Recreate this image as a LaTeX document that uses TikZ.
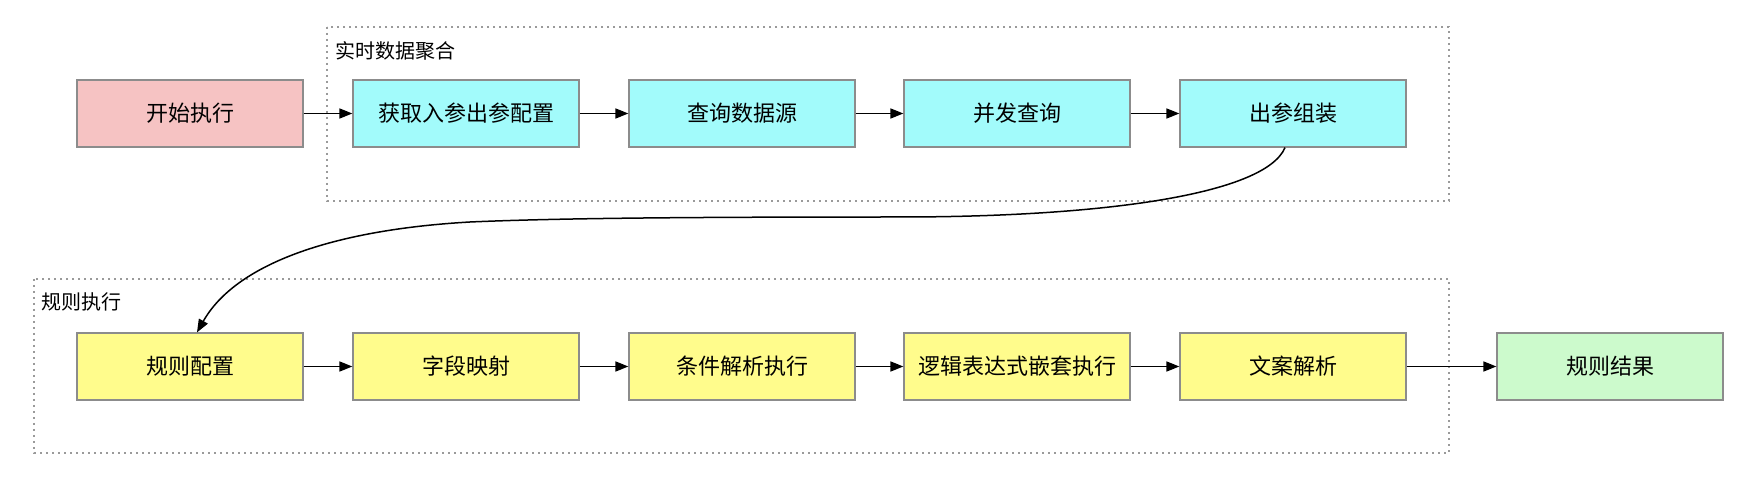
\documentclass[tikz,border=0pt]{standalone}
\usepackage{fontspec}
\setmainfont{Noto Sans CJK SC}
\usetikzlibrary{arrows.meta,calc}
\definecolor{pinkfill}{HTML}{F6C3C3}
\definecolor{cyanfill}{HTML}{A2FBFB}
\definecolor{yellowfill}{HTML}{FFFC8C}
\definecolor{greenfill}{HTML}{CCFACC}
\definecolor{boxline}{HTML}{8C8C8C}
\definecolor{clusterline}{HTML}{9A9A9A}
\tikzset{
  stepbox/.style={draw=boxline, line width=0.6pt, minimum width=113pt, minimum height=33.5pt, inner sep=0pt, font=\fontsize{11pt}{13pt}\selectfont},
  startbox/.style={stepbox, fill=pinkfill},
  aggbox/.style={stepbox, fill=cyanfill},
  rulebox/.style={stepbox, fill=yellowfill},
  resbox/.style={stepbox, fill=greenfill},
  cluster/.style={draw=clusterline, line width=0.6pt, dash pattern=on 1pt off 2pt},
  clusterlabel/.style={anchor=west, inner sep=0pt, font=\fontsize{10pt}{12pt}\selectfont},
  flow/.style={line width=0.75pt, -{Triangle[length=6.5pt,width=5pt]}},
}
\begin{document}
\begin{tikzpicture}[x=0.5pt,y=-0.5pt]
\useasboundingbox (0,0) rectangle (1740,480);
% clusters
\draw[cluster] (327,27) rectangle (1449,201);
\node[clusterlabel] (c1) at (335,51) {实时数据聚合};
\draw[cluster] (34,279) rectangle (1449,453);
\node[clusterlabel] (c2) at (41,302) {规则执行};
% top row
\node[startbox] (n0) at (190,113.5) {开始执行};
\node[aggbox] (n1) at (466,113.5) {获取入参出参配置};
\node[aggbox] (n2) at (742,113.5) {查询数据源};
\node[aggbox] (n3) at (1017,113.5) {并发查询};
\node[aggbox] (n4) at (1293,113.5) {出参组装};
% bottom row
\node[rulebox] (r0) at (190,366.5) {规则配置};
\node[rulebox] (r1) at (466,366.5) {字段映射};
\node[rulebox] (r2) at (742,366.5) {条件解析执行};
\node[rulebox] (r3) at (1017,366.5) {逻辑表达式嵌套执行};
\node[rulebox] (r4) at (1293,366.5) {文案解析};
\node[resbox] (r5) at (1610,366.5) {规则结果};
% arrows
\draw[flow] (n0) -- (n1);
\draw[flow] (n1) -- (n2);
\draw[flow] (n2) -- (n3);
\draw[flow] (n3) -- (n4);
\draw[flow] (r0) -- (r1);
\draw[flow] (r1) -- (r2);
\draw[flow] (r2) -- (r3);
\draw[flow] (r3) -- (r4);
\draw[flow] (r4) -- (r5);
% curved connector
\coordinate (cs) at ($(n4.south)+(-8,0)$);
\coordinate (ce) at ($(r0.north)+(7,0)$);
\draw[flow] (cs) .. controls (1265,195) and (1100,217) .. (900,217)
  .. controls (700,217) and (560,218) .. (470,222)
  .. controls (330,230) and (235,265) .. (ce);
\end{tikzpicture}
\end{document}
